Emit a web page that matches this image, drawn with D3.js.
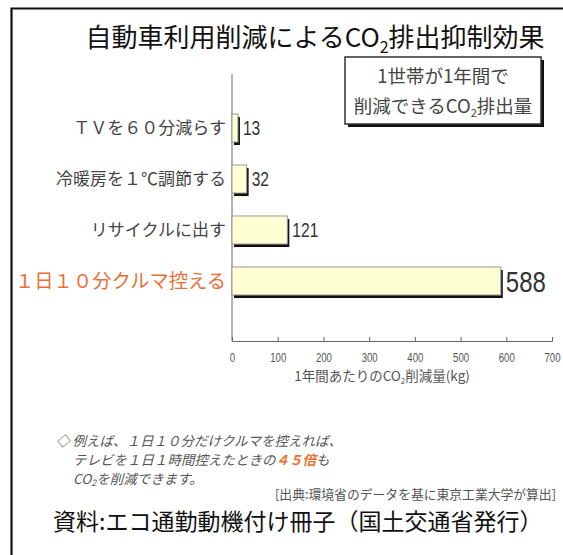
<!DOCTYPE html>
<html>
<head>
<meta charset="utf-8">
<script src="https://cdn.jsdelivr.net/npm/d3@7"></script>
<style>
  body { margin: 0; background: #fff; }
  svg { display: block; font-family: "Noto Sans CJK JP", "Noto Sans", sans-serif; }
</style>
</head>
<body>
<div id="chart"></div>
<script>
// data
const categories = ["ＴＶを６０分減らす", "冷暖房を１℃調節する", "リサイクルに出す", "１日１０分クルマ控える"];
const values = [13, 32, 121, 588];
const xTicks = [0, 100, 200, 300, 400, 500, 600, 700];

const width = 563, height = 555;

const svg = d3.select("#chart").append("svg")
    .attr("width", width)
    .attr("height", height);

// frame (left and top edges only visible)
svg.append("path")
    .attr("d", `M11.5,${height} V8.5 H${width}`)
    .attr("fill", "none")
    .attr("stroke", "#111")
    .attr("stroke-width", 2.2);

// title
const title = svg.append("text")
    .attr("x", 315)
    .attr("y", 47)
    .attr("text-anchor", "middle")
    .style("font-size", "26px")
    .attr("fill", "#111");
title.append("tspan").text("自動車利用削減によるCO");
title.append("tspan").attr("dy", 6).style("font-size", "16px").text("2");
title.append("tspan").attr("dy", -6).text("排出抑制効果");

// boxed caption
const box = svg.append("g").attr("transform", "translate(345,57)");
box.append("rect").attr("x", 3).attr("y", 3).attr("width", 196).attr("height", 67).attr("fill", "#111");
box.append("rect").attr("width", 196).attr("height", 67).attr("fill", "#fff").attr("stroke", "#333").attr("stroke-width", 1.5);
box.append("text").attr("x", 98).attr("y", 26).attr("text-anchor", "middle")
    .style("font-size", "18.5px").attr("fill", "#444").text("1世帯が1年間で");
const bt = box.append("text").attr("x", 98).attr("y", 56).attr("text-anchor", "middle")
    .style("font-size", "18.5px").attr("fill", "#444");
bt.append("tspan").text("削減できるCO");
bt.append("tspan").attr("dy", 4).style("font-size", "11px").text("2");
bt.append("tspan").attr("dy", -4).text("排出量");

// scales
const x = d3.scaleLinear().domain([0, 700]).range([232, 552]);
const y = d3.scaleBand().domain(categories).range([102.5, 306.5])
    .paddingInner(0.45).paddingOuter(0.225);

// vertical baseline
svg.append("line")
    .attr("x1", x(0)).attr("x2", x(0))
    .attr("y1", 74).attr("y2", 341)
    .attr("stroke", "#666").attr("stroke-width", 1);

// x axis
const xAxis = svg.append("g")
    .attr("transform", "translate(0,341)")
    .call(d3.axisBottom(x).tickValues(xTicks).tickSizeInner(-4).tickSizeOuter(-4).tickPadding(12));
xAxis.select(".domain").attr("stroke", "#666");
xAxis.selectAll(".tick line").attr("stroke", "#666");
xAxis.selectAll(".tick text")
    .attr("fill", "#555")
    .attr("transform", "scale(0.8,1)")
    .style("font-family", "'Liberation Sans', sans-serif")
    .style("font-size", "12px");

const at = svg.append("text")
    .attr("x", 382).attr("y", 381)
    .attr("text-anchor", "middle")
    .style("font-size", "13.5px")
    .attr("fill", "#555");
at.append("tspan").text("1年間あたりのCO");
at.append("tspan").attr("dy", 3).style("font-size", "8px").text("2");
at.append("tspan").attr("dy", -3).text("削減量(kg)");

// bars
const rows = svg.append("g").selectAll("g")
    .data(categories.map((c, i) => ({ name: c, value: values[i], last: i === categories.length - 1 })))
    .join("g");

rows.append("rect")
    .attr("x", x(0) + 2)
    .attr("y", d => y(d.name) + 3)
    .attr("width", d => x(d.value) - x(0))
    .attr("height", y.bandwidth())
    .attr("fill", "#111");

rows.append("rect")
    .attr("x", x(0))
    .attr("y", d => y(d.name))
    .attr("width", d => x(d.value) - x(0))
    .attr("height", y.bandwidth())
    .attr("fill", "#ffffd4")
    .attr("stroke", "#999")
    .attr("stroke-width", 1);

rows.append("text")
    .attr("transform", d => `translate(${x(d.value) + 5},${y(d.name) + y.bandwidth() / 2}) scale(0.8,1)`)
    .attr("dy", "0.36em")
    .style("font-family", "'Liberation Sans', sans-serif")
    .style("font-size", d => d.last ? "30px" : "19.5px")
    .attr("fill", "#333")
    .text(d => d.value);

rows.append("text")
    .attr("x", 226)
    .attr("y", d => y(d.name) + y.bandwidth() / 2)
    .attr("dy", "0.36em")
    .attr("text-anchor", "end")
    .style("font-size", d => d.last ? "19.3px" : "17px")
    .attr("fill", d => d.last ? "#e8703a" : "#444")
    .text(d => d.name);

// note
const note = svg.append("g")
    .style("font-size", "13.5px")
    .style("font-style", "italic")
    .attr("fill", "#555");
note.append("text").attr("x", 56).attr("y", 446).text("◇ 例えば、１日１０分だけクルマを控えれば、");
const n2 = note.append("text").attr("x", 73).attr("y", 465);
n2.append("tspan").text("テレビを１日１時間控えたときの");
n2.append("tspan").attr("fill", "#f07030").style("font-weight", "bold").text("４５倍");
n2.append("tspan").text("も");
const n3 = note.append("text").attr("x", 73).attr("y", 484);
n3.append("tspan").text("CO");
n3.append("tspan").attr("dy", 2).style("font-size", "9px").text("2");
n3.append("tspan").attr("dy", -2).text("を削減できます。");

svg.append("text")
    .attr("x", 556).attr("y", 499)
    .attr("text-anchor", "end")
    .style("font-size", "12.8px")
    .attr("fill", "#555")
    .text("[出典:環境省のデータを基に東京工業大学が算出]");

svg.append("text")
    .attr("x", 53).attr("y", 530)
    .style("font-size", "23px")
    .attr("fill", "#111")
    .text("資料:エコ通勤動機付け冊子（国土交通省発行）");
</script>
</body>
</html>
